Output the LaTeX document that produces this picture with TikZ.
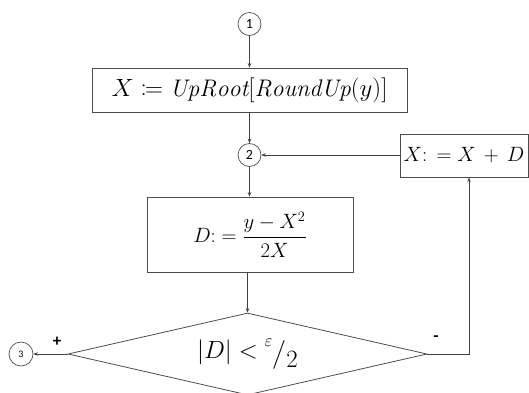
\documentclass[tikz,border=0pt]{standalone}
\usepackage{amsmath,amssymb,mathtools}
\usepackage{fontspec}
\setsansfont{Carlito}
\usepackage{tikz}
\usetikzlibrary{shapes.geometric,arrows.meta,positioning}

\begin{document}
\begin{tikzpicture}[
    x=1pt, y=-1pt,
    font=\fontsize{22}{26}\selectfont,
    connector/.style={
        circle, draw=black!70, line width=0.7pt, minimum size=23pt,
        inner sep=0pt, font=\sffamily\fontsize{14}{15}\selectfont
    },
    procbox/.style={
        rectangle, draw=black!70, line width=0.8pt, inner sep=0pt, align=center
    },
    decision/.style={
        diamond, draw=black!70, line width=0.8pt, inner sep=0pt,
        minimum width=359pt, minimum height=82pt,
        font=\fontsize{24}{28}\selectfont
    },
    flowEdge/.style={
        -{Stealth[length=4.5pt, width=3.5pt]}, line width=0.7pt, draw=black!75
    },
    signLabel/.style={
        font=\sffamily\bfseries\fontsize{17}{19}\selectfont, inner sep=0pt
    }
]
\useasboundingbox (0,0) rectangle (529,392);

% Entry point and initial guess
\node[connector] (c1) at (249.5,24) {1};
\node[procbox, minimum width=315pt, minimum height=44pt,
      font=\fontsize{24}{28}\selectfont] (init) at (249.5,90)
    {$X \coloneqq \mathit{UpRoot}[\mathit{RoundUp}(y)]$};

% Loop point
\node[connector] (c2) at (249.5,155) {2};

% Correction step
\node[procbox, minimum width=206pt, minimum height=75pt,
      font=\fontsize{20}{24}\selectfont] (delta) at (250,234.5)
    {$D{:}= \dfrac{y-X^2}{2X}$};

% Update step (right side)
\node[procbox, minimum width=128pt, minimum height=43pt] (update) at (464,155.5)
    {$X{:}\,= X \,+\, D$};

% Stop test (text smashed so the diamond keeps its size)
\node[decision] (test) at (247.5,354)
    {\smash{\makebox[0pt]{\raisebox{-0.2em}{$|D| < \raisebox{0.5em}{$\scriptstyle\varepsilon$}\raisebox{-0.1em}{$\big/$}\raisebox{-0.35em}{$2$}$}}}};
\node[connector, minimum size=24pt, font=\sffamily\fontsize{10}{11}\selectfont] (c3) at (21,354) {3};

% Branch signs
\node[signLabel] (plus) at (57,342) {+};
\node[signLabel] (minus) at (436,339) {-};

% Connectors
\draw[flowEdge] (c1) -- (init);
\draw[flowEdge] (init) -- (c2);
\draw[flowEdge] (c2) -- (c2 |- delta.north);
\draw[flowEdge] (delta.south -| test.north) -- (test.north);
\draw[flowEdge] (test.west) -- (c3);
\draw[flowEdge] (test.east) -| ([xshift=5pt]update.south);
\draw[flowEdge] (update.west |- c2) -- (c2);

\end{tikzpicture}
\end{document}
